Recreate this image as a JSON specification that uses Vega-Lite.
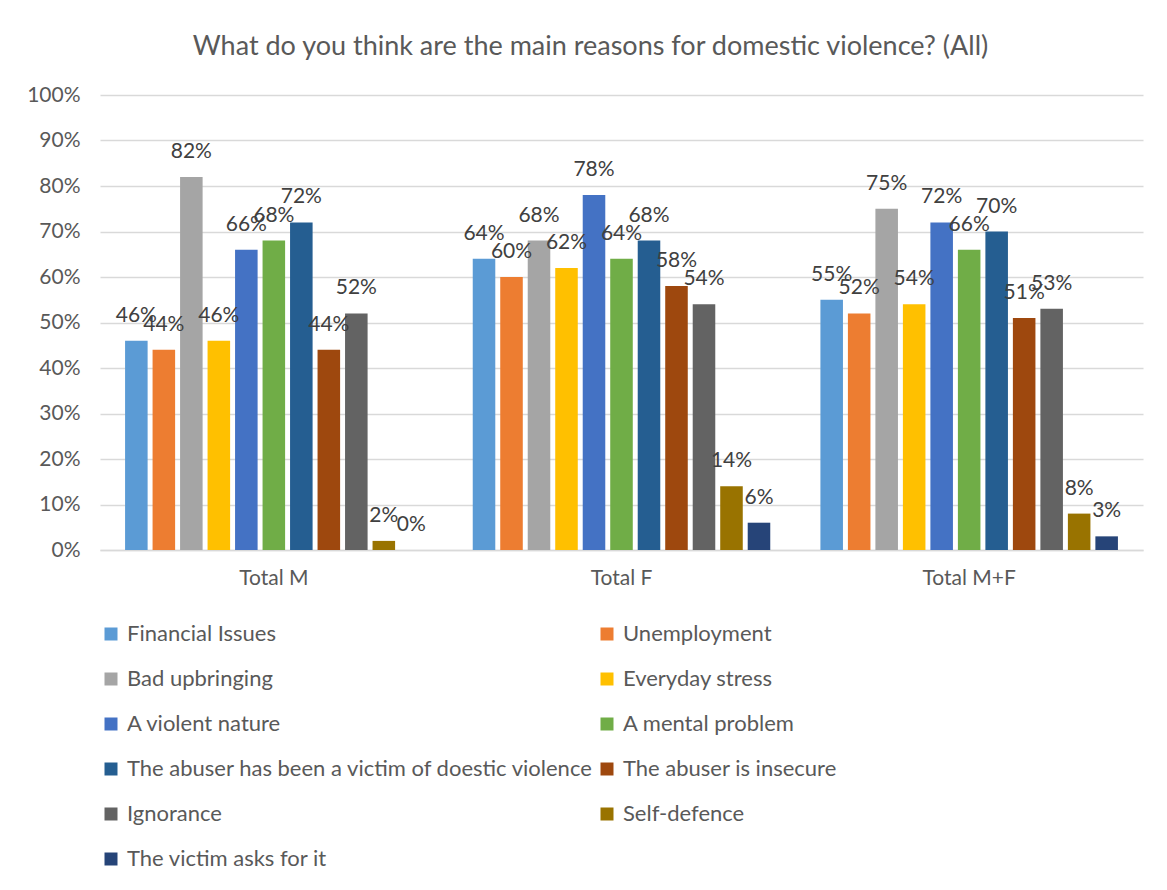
{
  "$schema": "https://vega.github.io/schema/vega-lite/v6.json",
  "width": 1043,
  "height": 455,
  "autosize": {"type": "none"},
  "padding": {"left": 100, "top": 95, "right": 24, "bottom": 340},
  "background": "white",
  "title": {
    "text": "What do you think are the main reasons for domestic violence? (All)",
    "font": "Lato",
    "fontSize": 27,
    "fontWeight": "normal",
    "color": "#595959",
    "anchor": "middle",
    "dx": -31,
    "offset": 23
  },
  "data": {
    "values": [
      {"group": "Total M", "reason": "Financial Issues", "value": 0.46},
      {"group": "Total M", "reason": "Unemployment", "value": 0.44},
      {"group": "Total M", "reason": "Bad upbringing", "value": 0.82},
      {"group": "Total M", "reason": "Everyday stress", "value": 0.46},
      {"group": "Total M", "reason": "A violent nature", "value": 0.66},
      {"group": "Total M", "reason": "A mental problem", "value": 0.68},
      {"group": "Total M", "reason": "The abuser has been a victim of doestic violence", "value": 0.72},
      {"group": "Total M", "reason": "The abuser is insecure", "value": 0.44},
      {"group": "Total M", "reason": "Ignorance", "value": 0.52},
      {"group": "Total M", "reason": "Self-defence", "value": 0.02},
      {"group": "Total M", "reason": "The victim asks for it", "value": 0.0},
      {"group": "Total F", "reason": "Financial Issues", "value": 0.64},
      {"group": "Total F", "reason": "Unemployment", "value": 0.60},
      {"group": "Total F", "reason": "Bad upbringing", "value": 0.68},
      {"group": "Total F", "reason": "Everyday stress", "value": 0.62},
      {"group": "Total F", "reason": "A violent nature", "value": 0.78},
      {"group": "Total F", "reason": "A mental problem", "value": 0.64},
      {"group": "Total F", "reason": "The abuser has been a victim of doestic violence", "value": 0.68},
      {"group": "Total F", "reason": "The abuser is insecure", "value": 0.58},
      {"group": "Total F", "reason": "Ignorance", "value": 0.54},
      {"group": "Total F", "reason": "Self-defence", "value": 0.14},
      {"group": "Total F", "reason": "The victim asks for it", "value": 0.06},
      {"group": "Total M+F", "reason": "Financial Issues", "value": 0.55},
      {"group": "Total M+F", "reason": "Unemployment", "value": 0.52},
      {"group": "Total M+F", "reason": "Bad upbringing", "value": 0.75},
      {"group": "Total M+F", "reason": "Everyday stress", "value": 0.54},
      {"group": "Total M+F", "reason": "A violent nature", "value": 0.72},
      {"group": "Total M+F", "reason": "A mental problem", "value": 0.66},
      {"group": "Total M+F", "reason": "The abuser has been a victim of doestic violence", "value": 0.70},
      {"group": "Total M+F", "reason": "The abuser is insecure", "value": 0.51},
      {"group": "Total M+F", "reason": "Ignorance", "value": 0.53},
      {"group": "Total M+F", "reason": "Self-defence", "value": 0.08},
      {"group": "Total M+F", "reason": "The victim asks for it", "value": 0.03}
    ]
  },
  "encoding": {
    "x": {
      "field": "group",
      "type": "nominal",
      "sort": ["Total M", "Total F", "Total M+F"],
      "scale": {"paddingInner": 0.13, "paddingOuter": 0.065},
      "axis": {
        "title": null,
        "labelAngle": 0,
        "labelFont": "Lato",
        "labelFontSize": 21,
        "labelColor": "#595959",
        "labelPadding": 17,
        "ticks": false,
        "domainColor": "#d9d9d9",
        "domainWidth": 1.5
      }
    },
    "xOffset": {
      "field": "reason",
      "type": "nominal",
      "sort": ["Financial Issues", "Unemployment", "Bad upbringing", "Everyday stress", "A violent nature", "A mental problem", "The abuser has been a victim of doestic violence", "The abuser is insecure", "Ignorance", "Self-defence", "The victim asks for it"],
      "scale": {"paddingInner": 0.18, "paddingOuter": 0.09}
    },
    "y": {
      "field": "value",
      "type": "quantitative",
      "scale": {"domain": [0, 1]},
      "axis": {
        "title": null,
        "format": ".0%",
        "values": [0, 0.1, 0.2, 0.3, 0.4, 0.5, 0.6, 0.7, 0.8, 0.9, 1],
        "labelFont": "Lato",
        "labelFontSize": 21,
        "labelColor": "#595959",
        "labelPadding": 20,
        "ticks": false,
        "domain": false,
        "gridColor": "#d9d9d9",
        "gridWidth": 1.5
      }
    }
  },
  "layer": [
    {
      "mark": {"type": "bar"},
      "encoding": {
        "color": {
          "field": "reason",
          "type": "nominal",
          "scale": {
            "domain": ["Financial Issues", "Bad upbringing", "A violent nature", "The abuser has been a victim of doestic violence", "Ignorance", "The victim asks for it", "Unemployment", "Everyday stress", "A mental problem", "The abuser is insecure", "Self-defence"],
            "range": ["#5B9BD5", "#A5A5A5", "#4472C4", "#255E91", "#636363", "#264478", "#ED7D31", "#FFC000", "#70AD47", "#9E480E", "#997300"]
          },
          "legend": {
            "title": null,
            "orient": "none",
            "legendX": 0,
            "legendY": 528,
            "columns": 2,
            "columnPadding": 2,
            "rowPadding": 23,
            "symbolType": "square",
            "symbolSize": 169,
            "symbolStrokeWidth": 0,
            "labelFont": "Lato",
            "labelFontSize": 22,
            "labelColor": "#595959",
            "labelOffset": 5,
            "labelLimit": 700,
            "padding": 0
          }
        }
      }
    },
    {
      "mark": {"type": "text", "baseline": "middle", "align": "center", "dy": -25, "font": "Lato", "fontSize": 21, "color": "#404040"},
      "encoding": {
        "text": {"field": "value", "type": "quantitative", "format": ".0%"}
      }
    }
  ],
  "config": {
    "view": {"stroke": null}
  }
}
